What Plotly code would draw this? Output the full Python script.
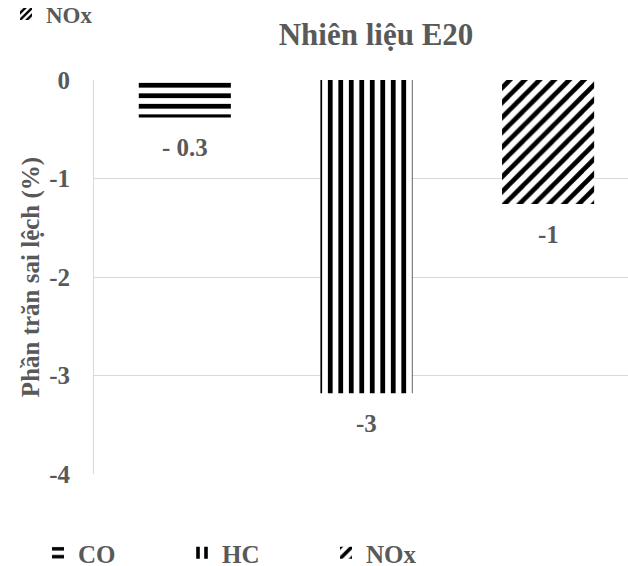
import plotly.graph_objects as go

categories = ["CO", "HC", "NOx"]
values = [-0.38, -3.18, -1.26]
labels = ["- 0.3", "-3", "-1"]
patterns = ["-", "|", "/"]
title = "Nhiên liệu E20"
ytitle = "Phần trăn sai lệch (%)"
yticks = [0, -1, -2, -3, -4]

GRAY = "#595959"
FONT = "Liberation Serif"

fig = go.Figure()
for i, (c, v, p) in enumerate(zip(categories, values, patterns)):
    fig.add_trace(go.Bar(
        x=[c], y=[v], name=c, width=0.507, opacity=1,
        marker=dict(color="white", opacity=1, line=dict(width=0),
                    pattern=dict(shape=p, fgcolor="black", bgcolor="white",
                                 size=10.5, solidity=0.45, fillmode="replace",
                                 fgopacity=1)),
        legend="legend",
    ))
    fig.add_annotation(x=c, y=v, text=labels[i], showarrow=False,
                       yanchor="middle", yshift=-30,
                       font=dict(family=FONT, size=25, color=GRAY, weight="bold"))

# stray legend entry at top-left
fig.add_trace(go.Bar(
    x=[categories[2]], y=[None], name="NOx", showlegend=True, opacity=1,
    marker=dict(color="white", opacity=1, line=dict(width=0),
                pattern=dict(shape="/", fgcolor="black", bgcolor="white",
                             size=6, solidity=0.5, fillmode="replace", fgopacity=1)),
    legend="legend2",
))

fig.update_layout(
    width=628, height=566,
    margin=dict(l=94, r=0, t=80, b=92),
    paper_bgcolor="white", plot_bgcolor="white",
    barmode="overlay",
    title=dict(text=title, x=376 / 628, xanchor="center", y=1 - 34 / 566, yanchor="middle",
               font=dict(family=FONT, size=31, color=GRAY, weight="bold")),
    font=dict(family=FONT, size=24, color=GRAY, weight="bold"),
    xaxis=dict(type="category", range=[-0.5, 2.44], showticklabels=False,
               showgrid=False, zeroline=False, showline=False, ticks=""),
    yaxis=dict(range=[-4, 0], tickvals=yticks, ticktext=[str(t) for t in yticks],
               showgrid=True, gridcolor="#d9d9d9", gridwidth=1,
               zeroline=False, showline=True, linecolor="#d9d9d9", linewidth=1,
               ticks="", ticklen=0, ticklabelstandoff=18,
               tickfont=dict(family=FONT, size=25, color=GRAY, weight="bold"),
               title=dict(text=ytitle, standoff=2,
                          font=dict(family=FONT, size=25, color=GRAY, weight="bold"))),
    legend=dict(orientation="h", xref="container", x=38 / 628, xanchor="left",
                yref="container", y=13 / 566, yanchor="middle",
                entrywidth=99, itemwidth=30,
                font=dict(family=FONT, size=25, color=GRAY, weight="bold")),
    legend2=dict(x=-88 / 534, xanchor="left",
                 yref="container", y=1 - 14 / 566, yanchor="middle",
                 itemwidth=30, bgcolor="rgba(0,0,0,0)",
                 font=dict(family=FONT, size=23, color=GRAY, weight="bold")),
    showlegend=True,
)

fig.write_html("out.html")
